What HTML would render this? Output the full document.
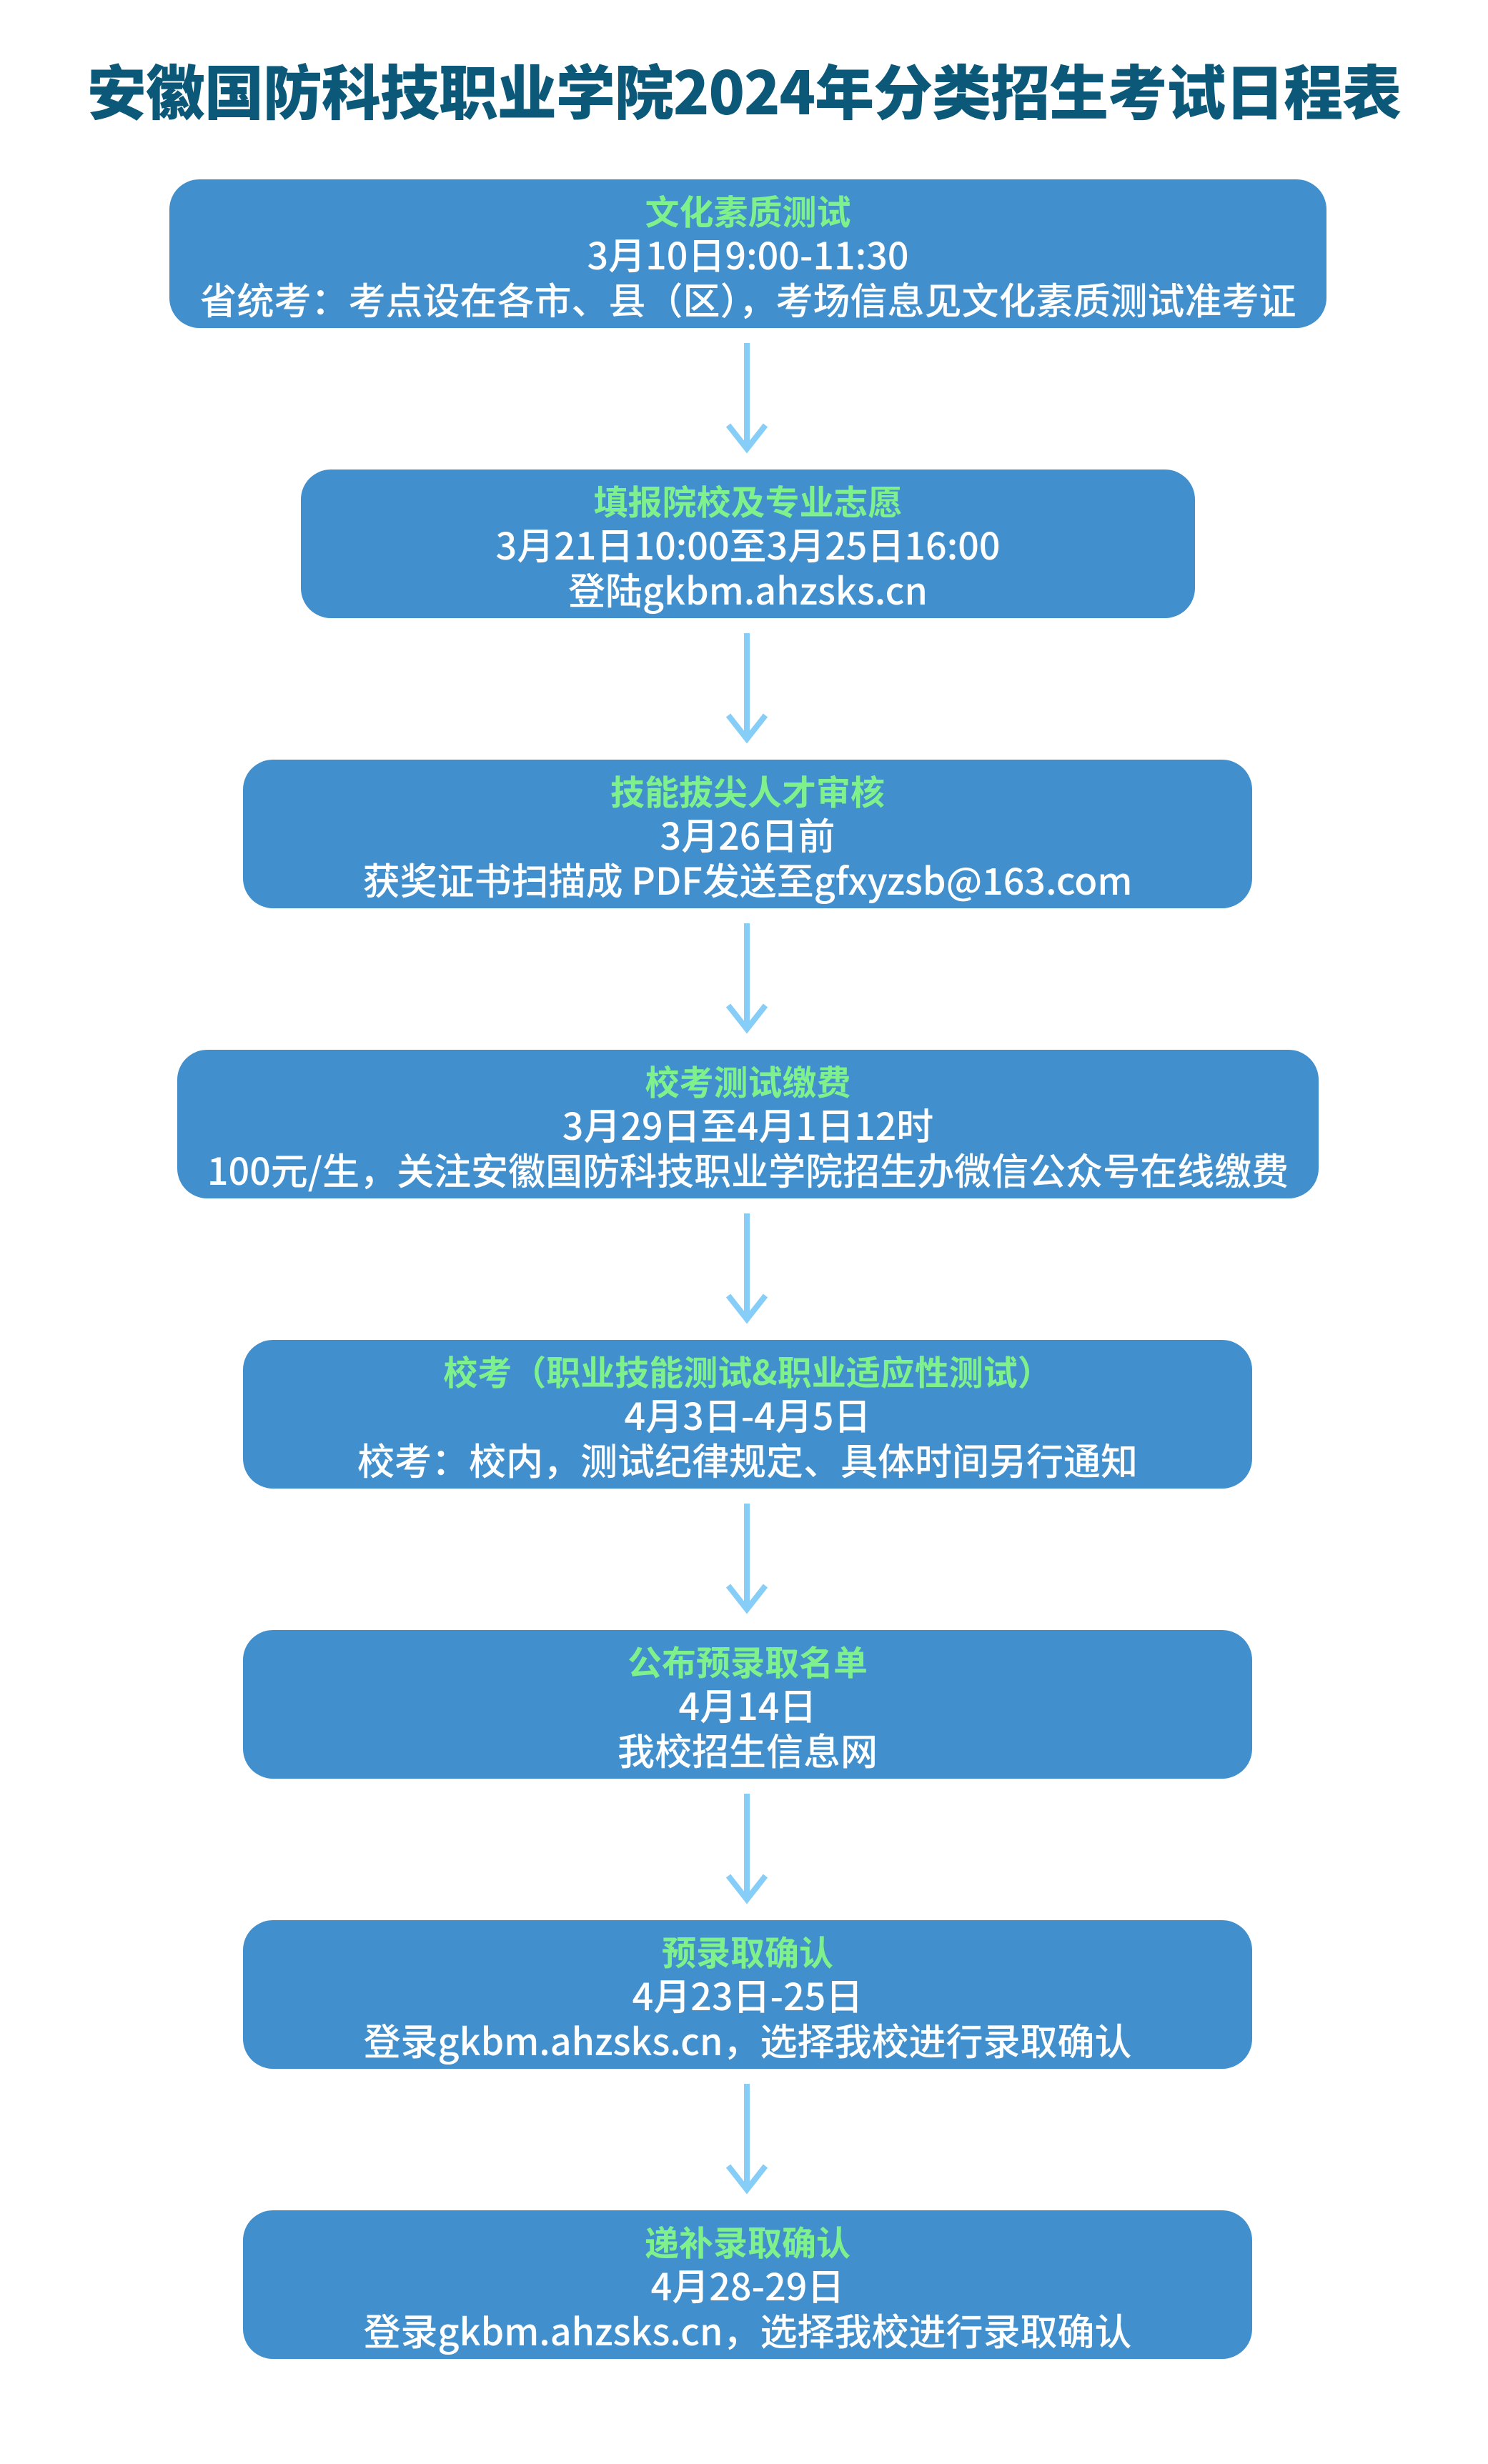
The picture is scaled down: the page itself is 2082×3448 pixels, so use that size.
<!DOCTYPE html>
<html><head><meta charset="utf-8"><style>
html,body{margin:0;padding:0;background:#fff;}
body{width:2082px;height:3448px;position:relative;overflow:hidden;font-family:"Liberation Sans","Noto Sans CJK SC",sans-serif;}
.t{position:absolute;left:0;width:2082px;top:74px;text-align:center;font-size:83px;font-weight:900;color:#0b5878;letter-spacing:-1px;line-height:100px;font-family:"Noto Sans CJK SC",sans-serif;}
.b{position:absolute;height:208px;background:#418fcc;border-radius:42px;color:#fff;text-align:center;font-family:"Noto Sans CJK SC",sans-serif;}
.b div{position:absolute;left:0;right:0;font-size:52px;line-height:60px;white-space:nowrap;font-weight:500;}
.b .h{top:12px;color:#7ef08c;font-weight:bold;font-size:48px;}
.b .l2{top:74px;}
.b .l3{top:137px;}
</style></head><body>
<div class="t">安徽国防科技职业学院2024年分类招生考试日程表</div>

<div class="b" style="left:237px;width:1619px;top:251px"><div class="h">文化素质测试</div><div class="l2">3月10日9:00-11:30</div><div class="l3">省统考：考点设在各市、县（区），考场信息见文化素质测试准考证</div></div>
<div class="b" style="left:421px;width:1251px;top:657px"><div class="h">填报院校及专业志愿</div><div class="l2">3月21日10:00至3月25日16:00</div><div class="l3">登陆gkbm.ahzsks.cn</div></div>
<div class="b" style="left:340px;width:1412px;top:1063px"><div class="h">技能拔尖人才审核</div><div class="l2">3月26日前</div><div class="l3">获奖证书扫描成 PDF发送至gfxyzsb@163.com</div></div>
<div class="b" style="left:248px;width:1597px;top:1469px"><div class="h">校考测试缴费</div><div class="l2">3月29日至4月1日12时</div><div class="l3">100元/生，关注安徽国防科技职业学院招生办微信公众号在线缴费</div></div>
<div class="b" style="left:340px;width:1412px;top:1875px"><div class="h">校考（职业技能测试&amp;职业适应性测试）</div><div class="l2">4月3日-4月5日</div><div class="l3">校考：校内，测试纪律规定、具体时间另行通知</div></div>
<div class="b" style="left:340px;width:1412px;top:2281px"><div class="h">公布预录取名单</div><div class="l2">4月14日</div><div class="l3">我校招生信息网</div></div>
<div class="b" style="left:340px;width:1412px;top:2687px"><div class="h">预录取确认</div><div class="l2">4月23日-25日</div><div class="l3">登录gkbm.ahzsks.cn，选择我校进行录取确认</div></div>
<div class="b" style="left:340px;width:1412px;top:3093px"><div class="h">递补录取确认</div><div class="l2">4月28-29日</div><div class="l3">登录gkbm.ahzsks.cn，选择我校进行录取确认</div></div>

<svg width="2082" height="3448" style="position:absolute;left:0;top:0" fill="none" stroke="#86cdf7" stroke-width="8">
<g id="ar">
<line x1="1045" y1="480" x2="1045" y2="628"/>
<polyline points="1019,595 1045,628 1071,595"/>
</g>
<use href="#ar" y="406"/><use href="#ar" y="812"/><use href="#ar" y="1218"/><use href="#ar" y="1624"/><use href="#ar" y="2030"/><use href="#ar" y="2436"/>
</svg>
</body></html>
